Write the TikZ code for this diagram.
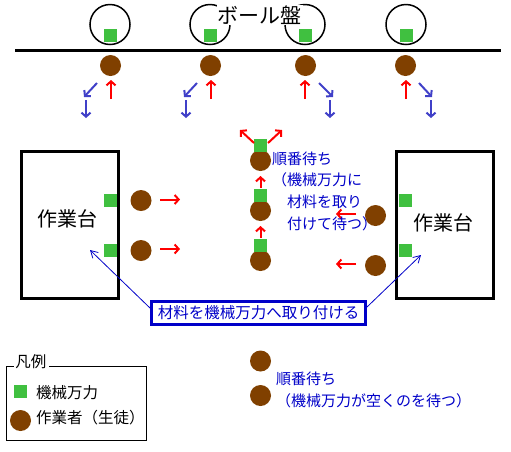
\documentclass[tikz,border=0pt]{standalone}
\usepackage{fontspec}
\setmainfont{Noto Sans CJK JP}
\usetikzlibrary{arrows.meta}
\usetikzlibrary{positioning}
\definecolor{visegreen}{RGB}{64,192,64}
\definecolor{workerbrown}{RGB}{128,64,0}
\definecolor{moveblue}{RGB}{64,64,200}
\definecolor{noteblue}{RGB}{0,0,200}
\tikzstyle{worker} = [circle,fill=workerbrown,minimum size=21pt,inner sep=0pt]
\tikzstyle{vise} = [rectangle,fill=visegreen,minimum size=13pt,inner sep=0pt]
\tikzstyle{drill} = [circle,draw,line width=1.5pt,minimum size=40pt,inner sep=0pt]
\tikzstyle{bench} = [rectangle,draw,line width=3pt,minimum width=97pt,minimum height=147pt,inner sep=0pt]
\tikzstyle{fwd} = [->,>={Straight Barb[length=4pt,width=9pt]},red,line width=2pt]
\tikzstyle{back} = [->,>={Straight Barb[length=4pt,width=9pt]},moveblue,line width=2pt]
\tikzstyle{pointer} = [->,>={Straight Barb[length=7pt,width=8pt]},noteblue,line width=0.8pt]
\tikzstyle{note} = [noteblue,inner sep=0pt,align=left,font=\fontsize{15}{21.7}\selectfont]

\begin{document}
\begin{tikzpicture}[x=1pt,y=-1pt]
	\useasboundingbox (0,0) rectangle (511,451);

	% ball drilling machines
	\node[drill] (d1) at (110,24.5) {};
	\node[drill] (d2) at (210,24.5) {};
	\node[drill] (d3) at (305,24.5) {};
	\node[drill] (d4) at (406,24.5) {};
	\node[fill=white,inner sep=1pt,font=\fontsize{21}{24}\selectfont] (T) at (259.5,15) {ボール盤};
	\node[vise] (v1) at (110,35.5) {};
	\node[vise] (v2) at (210,35.5) {};
	\node[vise] (v3) at (305,35.5) {};
	\node[vise] (v4) at (406,35.5) {};
	\draw[line width=3pt] (15,50) -- (501,50);

	\node[worker] (w1) at (110.5,65.5) {};
	\node[worker] (w2) at (210.5,65.5) {};
	\node[worker] (w3) at (305.5,65.5) {};
	\node[worker] (w4) at (405.5,65.5) {};

	\draw[fwd] (111,99) -- (111,80);
	\draw[fwd] (211,99) -- (211,80);
	\draw[fwd] (305,99) -- (305,80);
	\draw[fwd] (406,99) -- (406,80);
	\draw[back] (97,83) -- (84,97);
	\draw[back] (197,83) -- (184,97);
	\draw[back] (319,83) -- (333,97);
	\draw[back] (419,83) -- (432,97);
	\draw[back] (86,100) -- (86,118);
	\draw[back] (186,100) -- (186,118);
	\draw[back] (330,100) -- (330,118);
	\draw[back] (431,100) -- (431,118);

	% work benches
	\node[bench] (bL) at (70,225) {};
	\node[font=\fontsize{20}{24}\selectfont] (tL) at (67,219) {作業台};
	\node[bench] (bR) at (445,225) {};
	\node[font=\fontsize{20}{24}\selectfont] (tR) at (443,223) {作業台};

	\node[vise] (vL1) at (110.5,200.5) {};
	\node[vise] (vL2) at (110.5,250.5) {};
	\node[vise] (vR1) at (405.5,200.5) {};
	\node[vise] (vR2) at (405.5,250.5) {};

	\node[worker] (wL1) at (141,200.5) {};
	\node[worker] (wL2) at (141,250.5) {};
	\node[worker] (wR1) at (375.5,215.5) {};
	\node[worker] (wR2) at (375.5,265.5) {};
	\draw[fwd] (160,199.5) -- (180,199.5);
	\draw[fwd] (160,249) -- (180,249);
	\draw[fwd] (356,214) -- (336,214);
	\draw[fwd] (356,264) -- (336,264);

	% queue in the middle
	\node[worker] (q1) at (260.5,160.5) {};
	\node[worker] (q2) at (260.5,210.5) {};
	\node[worker] (q3) at (260.5,260.5) {};
	\node[vise] (qv1) at (260.5,145.5) {};
	\node[vise] (qv2) at (260.5,195.5) {};
	\node[vise] (qv3) at (260.5,245.5) {};
	\draw[fwd] (260.5,188) -- (260.5,176);
	\draw[fwd] (260.5,238) -- (260.5,226);
	\draw[fwd] (254,143) -- (240,130);
	\draw[fwd] (268,143) -- (282,130);

	\node[note,anchor=west] (N1) at (272,191) {順番待ち\\（機械万力に\\　材料を取り\\　付けて待つ）};

	% label with pointers
	\node[draw=noteblue,line width=3pt,text=noteblue,minimum width=214pt,minimum height=23pt,inner sep=0pt,font=\fontsize{15.5}{18}\selectfont] (lbl) at (258.5,313) {材料を機械万力へ取り付ける};
	\coordinate (pL) at (90,250);
	\coordinate (pR) at (421,255);
	\draw[pointer] (lbl.west) ++(0,-5) -- (pL);
	\draw[pointer] (lbl.east) ++(0,-6) -- (pR);

	% waiting for a free vise
	\node[worker] (q4) at (260.5,361) {};
	\node[worker] (q5) at (260.5,395.5) {};
	\node[note,anchor=west] (N2) at (276,390) {順番待ち\\（機械万力が空くのを待つ）};

	% legend
	\draw[line width=1pt] (6,366) rectangle (146,440);
	\node[fill=white,inner sep=2pt,font=\fontsize{15.5}{18}\selectfont] (LT) at (31,362) {凡例};
	\node[vise] (Lv) at (20.5,391) {};
	\node[anchor=west,inner sep=0pt,font=\fontsize{15.5}{18}\selectfont] (Lvt) at (36,393) {機械万力};
	\node[worker] (Lw) at (20.5,420.5) {};
	\node[anchor=west,inner sep=0pt,font=\fontsize{15.5}{18}\selectfont] (Lwt) at (36,418) {作業者（生徒）};

\end{tikzpicture}
\end{document}
